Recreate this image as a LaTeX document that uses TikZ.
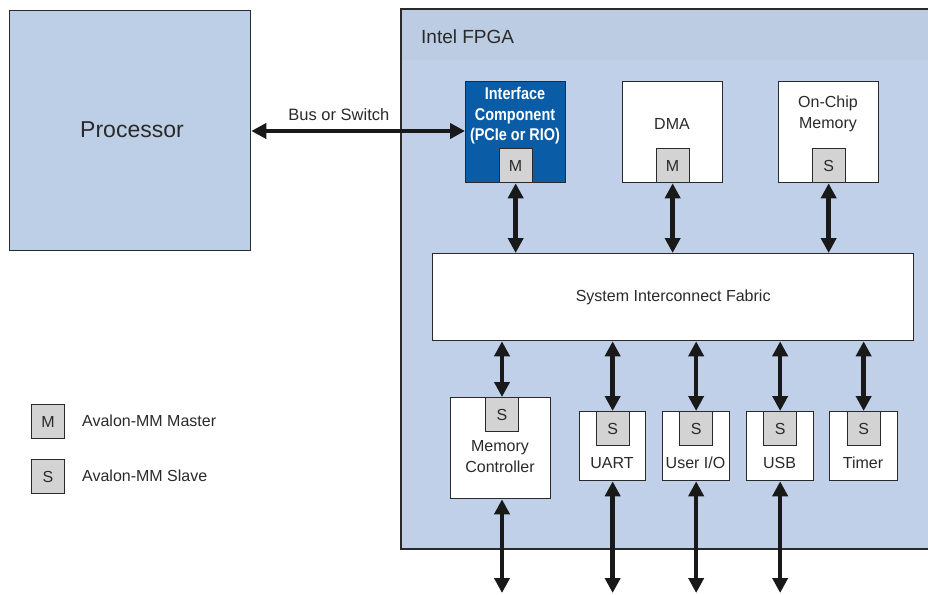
\documentclass[tikz,border=0pt]{standalone}
\usepackage{fontspec}
\setmainfont{Liberation Sans}
\usetikzlibrary{arrows.meta}
\definecolor{fpgabody}{HTML}{BFD0E8}
\definecolor{fpgahead}{HTML}{BCCCE2}
\definecolor{procfill}{HTML}{BDCFE6}
\definecolor{icblue}{HTML}{0B5CA6}
\definecolor{portgray}{HTML}{D3D3D3}
\definecolor{edge}{HTML}{2A2A2A}

\begin{document}
\begin{tikzpicture}[x=1pt,y=-1pt,
    blk/.style={draw=edge, line width=1.3pt, fill=white, inner sep=0pt, anchor=north west},
    port/.style={draw=edge, line width=1.3pt, fill=portgray, minimum width=33pt, minimum height=34pt,
        inner sep=0pt, anchor=north, font=\fontsize{16}{16}\selectfont, text=edge},
    lbl/.style={font=\fontsize{16}{21}\selectfont, align=center, text=edge, inner sep=0pt},
    arr/.style={{Triangle[length=15pt,width=15pt]}-{Triangle[length=15pt,width=15pt]}, line width=4.5pt, draw=black!90}]
				\clip (0,0) rectangle (928,594);
				\fill[white] (0,0) rectangle (928,594);
				
				% processor
				\node[blk, fill=procfill, minimum width=241pt, minimum height=240pt] (proc) at (9,10) {};
				\node[lbl, font=\fontsize{23}{23}\selectfont] (proclbl) at (132,130) {Processor};
				
				% fpga
				\node[blk, fill=fpgabody, minimum width=545pt, minimum height=539pt] (fpga) at (401,9) {};
				\fill[fpgahead] (fpga.north west) rectangle ([yshift=-51pt]fpga.north east);
				\draw[edge, line width=1.3pt] (fpga.north west) rectangle (fpga.south east);
				\node[lbl, anchor=west, font=\fontsize{19}{19}\selectfont] (fpgalbl) at (421,37) {Intel FPGA};
				
				% top row
				\node[blk, fill=icblue, minimum width=100pt, minimum height=101pt] (ic) at (465,81) {};
				\node[lbl, text=white, font=\fontsize{17}{20.5}\selectfont\bfseries] (iclbl) at (515,116)
				    {\scalebox{0.85}[1]{\renewcommand\arraystretch{1}\begin{tabular}{@{}c@{}}Interface\\Component\\(PCIe or RIO)\end{tabular}}};
				\node[port] (icport) at (ic.south |- 0,148) {M};
				
				\node[blk, minimum width=100pt, minimum height=101pt] (dma) at (622,81) {};
				\node[lbl] (dmalbl) at (672,124) {DMA};
				\node[port] (dmaport) at (dma.south |- 0,148) {M};
				
				\node[blk, minimum width=100pt, minimum height=101pt] (ocm) at (778,81) {};
				\node[lbl] (ocmlbl) at (828,114) {On-Chip\\Memory};
				\node[port] (ocmport) at (ocm.south |- 0,148) {S};
				
				% fabric
				\node[blk, minimum width=481pt, minimum height=87pt] (fab) at (432,253) {};
				\node[lbl] (fablbl) at (fab.center) {System Interconnect Fabric};
				
				% bottom row
				\node[blk, minimum width=100pt, minimum height=101pt] (mc) at (450,397) {};
				\node[lbl] (mclbl) at (500,457) {Memory\\Controller};
				\node[port] (mcport) at (502,397) {S};
				
				\node[blk, minimum width=66pt, minimum height=69pt] (uart) at (579,411) {};
				\node[lbl] (uartlbl) at (612,463) {UART};
				\node[port] (uartport) at (uart.north) {S};
				
				\node[blk, minimum width=67pt, minimum height=69pt] (uio) at (662,411) {};
				\node[lbl] (uiolbl) at (695.5,463) {User I/O};
				\node[port] (uioport) at (uio.north) {S};
				
				\node[blk, minimum width=67pt, minimum height=69pt] (usb) at (746,411) {};
				\node[lbl] (usblbl) at (779.5,463) {USB};
				\node[port] (usbport) at (usb.north) {S};
				
				\node[blk, minimum width=68pt, minimum height=69pt] (tmr) at (829,411) {};
				\node[lbl] (tmrlbl) at (863,463) {Timer};
				\node[port] (tmrport) at (tmr.north) {S};
				
				% legend
				\node[port] (legm) at (48,404) {M};
				\node[lbl, anchor=west] (legmlbl) at (82,421) {Avalon-MM Master};
				\node[port] (legs) at (48,459) {S};
				\node[lbl, anchor=west] (legslbl) at (82,476) {Avalon-MM Slave};
				
				% connections
				\draw[arr] (proc.east |- 0,131) -- (ic.west |- 0,131) node[lbl, pos=0.41, above=8pt, font=\fontsize{16.5}{16.5}\selectfont] (buslbl) {Bus or Switch};
				\draw[arr] (icport.south) -- (icport.south |- fab.north);
				\draw[arr] (dmaport.south) -- (dmaport.south |- fab.north);
				\draw[arr] (ocmport.south) -- (ocmport.south |- fab.north);
				\draw[arr] (mcport.north |- fab.south) -- (mcport.north);
				\draw[arr] (uartport.north |- fab.south) -- (uartport.north);
				\draw[arr] (uioport.north |- fab.south) -- (uioport.north);
				\draw[arr] (usbport.north |- fab.south) -- (usbport.north);
				\draw[arr] (tmrport.north |- fab.south) -- (tmrport.north);
				
				\coordinate (mcout) at (mcport.north |- 0,593);
				\coordinate (uartout) at (uartport.north |- 0,593);
				\coordinate (uioout) at (uioport.north |- 0,593);
				\coordinate (usbout) at (usbport.north |- 0,593);
				\draw[arr] (mcout |- mc.south) -- (mcout);
				\draw[arr] (uartout |- uart.south) -- (uartout);
				\draw[arr] (uioout |- uio.south) -- (uioout);
				\draw[arr] (usbout |- usb.south) -- (usbout);
\end{tikzpicture}
\end{document}
